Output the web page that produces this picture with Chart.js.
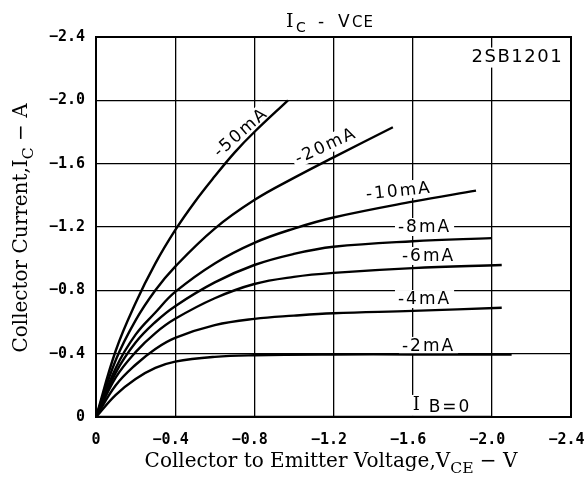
<!DOCTYPE html>
<html>
<head>
<meta charset="utf-8">
<script src="https://cdn.jsdelivr.net/npm/chart.js@4/dist/chart.umd.min.js"></script>
<style>
  html, body { margin: 0; padding: 0; background: #fff; }
</style>
</head>
<body>
<canvas id="ivChart" width="586" height="477"></canvas>
<script>
// 2SB1201  IC - VCE  (PNP, so everything is negative)
var xTicks = [0, -0.4, -0.8, -1.2, -1.6, -2.0, -2.4];
var yTicks = [0, -0.4, -0.8, -1.2, -1.6, -2.0, -2.4];

// [VCE (V), IC (A)]
var ib0  = [[0, 0], [-2.0, 0]];
var ib2  = [[0, 0], [-0.1, -0.14], [-0.2, -0.24], [-0.3, -0.31], [-0.4, -0.35], [-0.6, -0.38], [-0.8, -0.39], [-1.2, -0.395], [-1.6, -0.395], [-2.1, -0.395]];
var ib4  = [[0, 0], [-0.1, -0.2], [-0.2, -0.33], [-0.3, -0.43], [-0.4, -0.5], [-0.6, -0.58], [-0.8, -0.62], [-1.0, -0.64], [-1.2, -0.655], [-1.6, -0.67], [-2.05, -0.69]];
var ib6  = [[0, 0], [-0.1, -0.25], [-0.2, -0.41], [-0.3, -0.53], [-0.4, -0.62], [-0.6, -0.75], [-0.8, -0.84], [-1.0, -0.885], [-1.2, -0.91], [-1.6, -0.94], [-2.05, -0.96]];
var ib8  = [[0, 0], [-0.1, -0.28], [-0.2, -0.47], [-0.3, -0.6], [-0.4, -0.7], [-0.6, -0.85], [-0.8, -0.96], [-1.0, -1.03], [-1.2, -1.075], [-1.6, -1.11], [-2.0, -1.13]];
var ib10 = [[0, 0], [-0.1, -0.31], [-0.2, -0.52], [-0.3, -0.66], [-0.4, -0.79], [-0.6, -0.97], [-0.8, -1.1], [-1.0, -1.19], [-1.2, -1.26], [-1.6, -1.36], [-1.92, -1.43]];
var ib20 = [[0, 0], [-0.1, -0.36], [-0.2, -0.61], [-0.3, -0.8], [-0.4, -0.95], [-0.6, -1.19], [-0.8, -1.37], [-1.0, -1.51], [-1.2, -1.64], [-1.5, -1.83]];
var ib50 = [[0, 0], [-0.1, -0.42], [-0.2, -0.72], [-0.3, -0.97], [-0.4, -1.18], [-0.5, -1.36], [-0.6, -1.52], [-0.7, -1.67], [-0.8, -1.8], [-0.97, -2.0]];

var curves = [ib0, ib2, ib4, ib6, ib8, ib10, ib20, ib50];
var curveNames = ['IB=0', '-2mA', '-4mA', '-6mA', '-8mA', '-10mA', '-20mA', '-50mA'];

// curve labels, placed in data units
var labelText  = ['-50mA', '-20mA', '-10mA', '-8mA', '-6mA', '-4mA', '-2mA'];
var labelV     = [-0.73, -1.16, -1.53, -1.66, -1.68, -1.66, -1.68];
var labelI     = [-1.8, -1.715, -1.43, -1.2, -1.017, -0.745, -0.449];
var labelAngle = [-41, -25, -6, 0, 0, 0, 0];

function pts(arr) {
  return arr.map(function (p) { return { x: p[0], y: p[1] }; });
}

function tickText(v) {
  if (Math.abs(v) < 1e-9) return '0';
  return '\u2212' + Math.abs(v).toFixed(1);
}

function richWidth(c, segs, size, family) {
  var w = 0;
  segs.forEach(function (s) {
    c.font = (s.sub ? size * 0.78 : size) + 'px ' + family;
    w += c.measureText(s.t).width;
  });
  return w;
}

function drawRich(c, segs, x, y, size, family) {
  var total = richWidth(c, segs, size, family);
  var cx = x - total / 2;
  c.textAlign = 'left';
  c.textBaseline = 'alphabetic';
  segs.forEach(function (s) {
    c.font = (s.sub ? size * 0.78 : size) + 'px ' + family;
    c.fillText(s.t, cx, y + (s.sub ? size * 0.3 : 0));
    cx += c.measureText(s.t).width;
  });
}

var decor = {
  id: 'decor',
  beforeDraw: function (chart) {
    var c = chart.ctx;
    c.save();
    c.fillStyle = '#fff';
    c.fillRect(0, 0, chart.width, chart.height);
    c.restore();
  },
  beforeDatasetsDraw: function (chart) {
    var c = chart.ctx, xs = chart.scales.x, ys = chart.scales.y;
    c.save();
    c.letterSpacing = '2px';
    c.font = '17px "DejaVu Sans"';
    c.textAlign = 'center';
    c.textBaseline = 'middle';
    for (var i = 0; i < labelText.length; i++) {
      var px = xs.getPixelForValue(labelV[i]);
      var py = ys.getPixelForValue(labelI[i]);
      c.save();
      c.translate(px, py);
      c.rotate(labelAngle[i] * Math.PI / 180);
      var w = c.measureText(labelText[i]).width;
      c.fillStyle = '#fff';
      c.fillRect(-w / 2 - 3, -9, w + 6, 18);
      c.fillStyle = '#000';
      c.fillText(labelText[i], 0, 1);
      c.restore();
    }
    // IB = 0
    var bx = xs.getPixelForValue(-1.6), by = ys.getPixelForValue(-0.07);
    c.fillStyle = '#fff';
    c.fillRect(bx - 6, by - 11, 70, 21);
    c.fillStyle = '#000';
    c.textAlign = 'left';
    c.font = '18px "DejaVu Serif"';
    c.fillText('I', bx, by - 1);
    c.font = '17px "DejaVu Sans"';
    c.fillText('B=0', bx + 16, by + 2);
    // part number
    c.textAlign = 'right';
    c.font = '18px "DejaVu Sans"';
    c.letterSpacing = '1.5px';
    c.fillStyle = '#fff';
    var pnx = xs.getPixelForValue(-2.36), pny = ys.getPixelForValue(-2.27);
    var pw = c.measureText('2SB1201').width;
    c.fillRect(pnx - pw - 2, pny - 10, pw + 4, 20);
    c.fillStyle = '#000';
    c.fillText('2SB1201', pnx, pny);
    c.restore();
  },
  afterDraw: function (chart) {
    var c = chart.ctx, a = chart.chartArea;
    c.save();
    c.strokeStyle = '#000';
    c.lineWidth = 2;
    c.strokeRect(a.left, a.top, a.right - a.left, a.bottom - a.top);

    c.fillStyle = '#000';
    // chart title
    c.textAlign = 'left';
    c.textBaseline = 'alphabetic';
    c.font = '19px "DejaVu Serif"';
    c.fillText('I', 286, 27);
    c.font = '14px "DejaVu Sans"';
    c.letterSpacing = '1px';
    c.fillText('C', 296, 32);
    c.font = '17px "DejaVu Sans"';
    c.fillText('-  V', 318, 27);
    c.font = '15px "DejaVu Sans"';
    c.fillText('CE', 352, 27);
    c.letterSpacing = '0px';

    // axis titles
    var fam = '"DejaVu Serif"';
    var xSegs = [{ t: 'Collector to Emitter Voltage,V' }, { t: 'CE', sub: true }, { t: ' \u2212 V' }];
    var ySegs = [{ t: 'Collector Current,I' }, { t: 'C', sub: true }, { t: ' \u2212 A' }];
    var size = 18 * 373 / richWidth(c, xSegs, 18, fam);
    drawRich(c, xSegs, 331, 467, size, fam);
    c.translate(27, 228);
    c.rotate(-Math.PI / 2);
    drawRich(c, ySegs, 0, 0, size, fam);
    c.restore();
  }
};

var tickFont = { family: '"DejaVu Sans Mono"', size: 15, weight: 'bold' };

new Chart(document.getElementById('ivChart'), {
  type: 'scatter',
  data: {
    datasets: curves.map(function (c, i) {
      return {
        label: curveNames[i],
        data: pts(c),
        showLine: true,
        borderColor: '#000',
        borderWidth: 2.4,
        pointRadius: 0,
        tension: 0.4,
        fill: false
      };
    })
  },
  options: {
    responsive: false,
    animation: false,
    devicePixelRatio: 1,
    layout: { padding: { top: 37, right: 15, left: 0, bottom: 0 } },
    plugins: { legend: { display: false }, tooltip: { enabled: false }, title: { display: false } },
    scales: {
      x: {
        type: 'linear',
        min: -2.4, max: 0,
        reverse: true,
        afterBuildTicks: function (axis) { axis.ticks = xTicks.map(function (v) { return { value: v }; }); },
        afterFit: function (axis) { axis.height = 60; axis.paddingLeft = 0; axis.paddingRight = 0; },
        grid: { color: '#000', lineWidth: 1.3, drawTicks: false },
        border: { color: '#000', width: 2 },
        ticks: {
          color: '#000', font: tickFont, padding: 14, maxRotation: 0, autoSkip: false,
          callback: function (v) { return v === 0 ? '0' : tickText(v) + '\u2007'; }
        }
      },
      y: {
        type: 'linear',
        min: -2.4, max: 0,
        reverse: true,
        afterBuildTicks: function (axis) { axis.ticks = yTicks.map(function (v) { return { value: v }; }); },
        afterFit: function (axis) { axis.width = 96; axis.paddingTop = 0; axis.paddingBottom = 0; },
        grid: { color: '#000', lineWidth: 1.3, drawTicks: false },
        border: { color: '#000', width: 2 },
        ticks: {
          color: '#000', font: tickFont, padding: 11, autoSkip: false,
          callback: function (v) { return tickText(v); }
        }
      }
    }
  },
  plugins: [decor]
});
</script>
</body>
</html>
